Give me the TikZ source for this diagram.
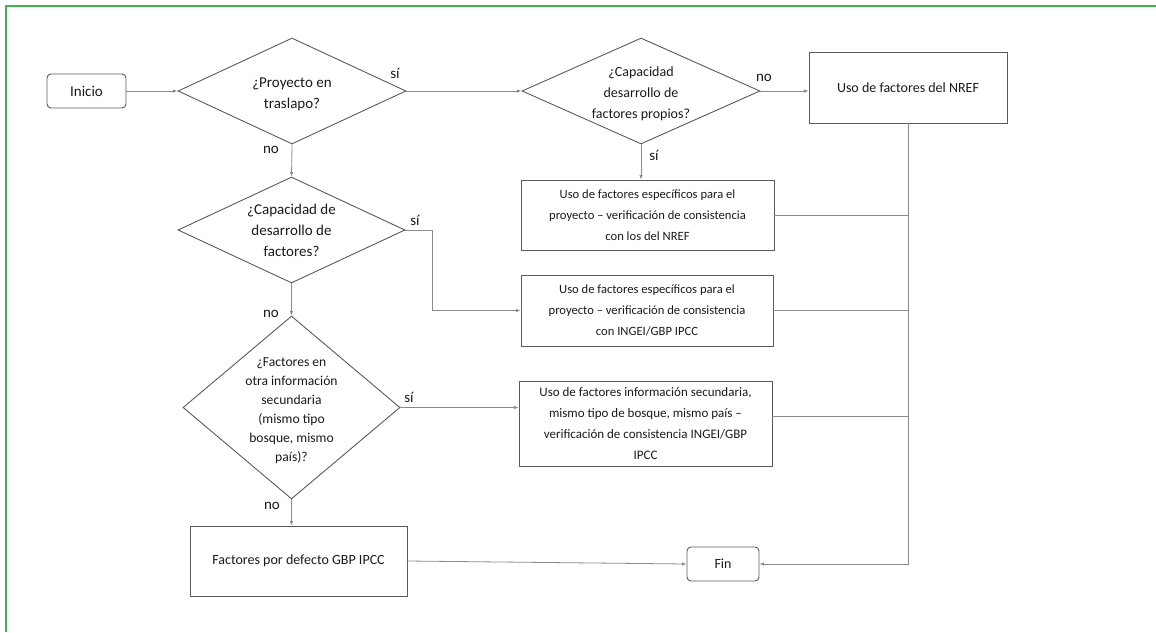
\documentclass[tikz,border=0pt]{standalone}
\usepackage{fontspec}
\setmainfont{Carlito}
\usetikzlibrary{shapes.geometric,arrows.meta}
\definecolor{frameg}{HTML}{3DB54A}
\definecolor{shapeln}{HTML}{5A5A5A}
\definecolor{connln}{HTML}{8A8A8A}
\definecolor{txt}{HTML}{1A1A1A}
\tikzset{
  box/.style={draw=shapeln, line width=0.9pt, rectangle, inner sep=0pt, align=center, text=txt, font=\fontsize{12.6}{21}\selectfont},
  term/.style={box, rounded corners=4pt},
  decision/.style={draw=shapeln, line width=0.9pt, diamond, inner sep=0pt},
  dtext/.style={align=center, text=txt, font=\fontsize{15}{21}\selectfont},
  conn/.style={draw=connln, line width=0.8pt},
  arr/.style={conn, -{Latex[length=4.5pt,width=3.5pt]}},
  lbl/.style={text=txt, font=\fontsize{15}{17}\selectfont, inner sep=0pt}
}
\begin{document}
\begin{tikzpicture}[x=1pt,y=-1pt]
\useasboundingbox (0,0) rectangle (1156,632);
\draw[frameg, line width=2pt] (1156,5.5) -- (5.5,5.5) -- (5.5,632);

\node[term, minimum width=79, minimum height=34, font=\fontsize{15}{17}\selectfont] (inicio) at (86.5,91) {Inicio};
\node[decision, minimum width=228, minimum height=106] (d1) at (292,91) {};
\node[dtext] at ([yshift=-3.5]d1) {¿Proyecto en\\traslapo?};
\node[decision, minimum width=238, minimum height=106] (d2) at (641,91) {};
\node[dtext, font=\fontsize{14}{21}\selectfont] at ([yshift=-2.5]d2) {¿Capacidad\\desarrollo de\\factores propios?};
\node[box, minimum width=198, minimum height=71, font=\fontsize{14}{21}\selectfont] (nref) at (908,87.5) {Uso de factores del NREF};
\node[box, minimum width=253, minimum height=70] (ba) at (647.5,215) {Uso de factores específicos para el\\proyecto – verificación de consistencia\\con los del NREF};
\node[box, minimum width=252, minimum height=71] (bb) at (647,310.5) {Uso de factores específicos para el\\proyecto – verificación de consistencia\\con INGEI/GBP IPCC};
\node[decision, minimum width=227, minimum height=106] (d3) at (291.5,230) {};
\node[dtext] at (d3) {¿Capacidad de\\desarrollo de\\factores?};
\node[decision, minimum width=217, minimum height=183] (d4) at (291.5,407.5) {};
\node[dtext, font=\fontsize{13.6}{19}\selectfont] at ([yshift=-3]d4) {¿Factores en\\otra información\\secundaria\\(mismo tipo\\bosque, mismo\\país)?};
\node[box, minimum width=253, minimum height=85, font=\fontsize{13}{21}\selectfont] (bc) at (645.5,423.5) {Uso de factores información secundaria,\\mismo tipo de bosque, mismo país –\\verificación de consistencia INGEI/GBP\\IPCC};
\node[box, minimum width=217, minimum height=70, font=\fontsize{14}{21}\selectfont] (bd) at (298.5,561) {Factores por defecto GBP IPCC};
\node[term, minimum width=72, minimum height=34, font=\fontsize{14}{17}\selectfont] (fin) at (723,564) {Fin};

\coordinate (c3) at (432,230);
\coordinate (c3b) at (432,310.5);
\coordinate (rv) at (908,564);

\draw[arr] (inicio.east) -- (d1.west);
\draw[arr] (d1.east) -- (d2.west);
\draw[arr] (d2.east) -- (d2.east -| nref.west);
\draw[arr] (d1.south) -- (d3.north);
\draw[arr] (d2.south) -- (d2.south |- ba.north);
\draw[arr] (d3.east) -- (c3) -- (c3b) -- (bb.west);
\draw[arr] (d3.south) -- (d4.north);
\draw[arr] (d4.east) -- (d4.east -| bc.west);
\draw[arr] (d4.south) -- (d4.south |- bd.north);
\draw[arr] (bd.east) -- (fin.west);
\draw[arr] (nref.south) -- (rv) -- (fin.east);
\draw[conn] (ba.east) -- (ba.east -| nref.south);
\draw[conn] (bb.east) -- (bb.east -| nref.south);
\draw[conn] ([yshift=7.5]bc.east) -- ([yshift=7.5]bc.east -| nref.south);

\node[lbl] (l1) at (395,73) {sí};
\node[lbl] (l2) at (764,78) {no};
\node[lbl] (l3) at (271,150) {no};
\node[lbl] (l4) at (654,155) {sí};
\node[lbl] (l5) at (415,220) {sí};
\node[lbl] (l6) at (271,314) {no};
\node[lbl] (l7) at (409,397) {sí};
\node[lbl] (l8) at (272,506) {no};
\end{tikzpicture}
\end{document}
